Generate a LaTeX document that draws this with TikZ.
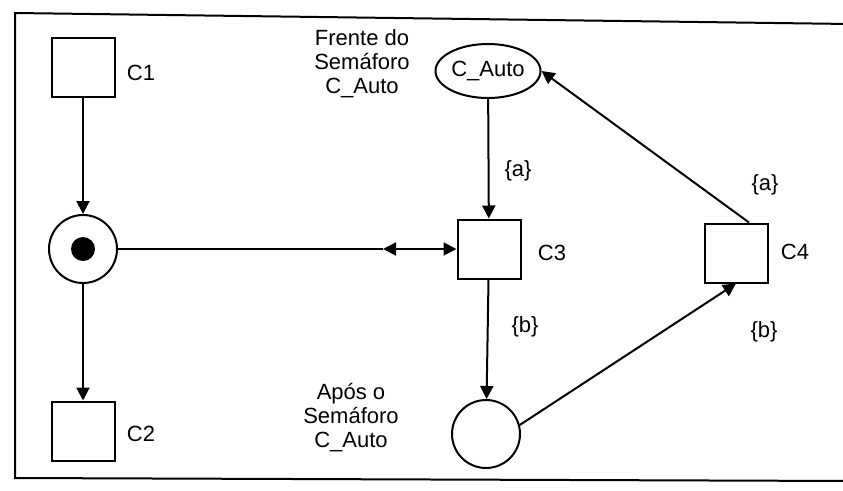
\documentclass[tikz,border=0pt]{standalone}
\usepackage{fontspec}
\setmainfont{Liberation Sans}
\usetikzlibrary{shapes.geometric, arrows.meta}

\begin{document}
\begin{tikzpicture}[x=1pt, y=-1pt,
  trans/.style={rectangle, draw, line width=2pt, minimum width=63pt, minimum height=59pt, inner sep=0pt},
  place/.style={circle, draw, line width=2pt, minimum size=68pt, inner sep=0pt},
  token/.style={circle, fill=black, minimum size=24pt, inner sep=0pt},
  txt/.style={font=\fontsize{22}{24}\selectfont, align=center, inner sep=0pt},
  flow/.style={line width=2pt, -{Triangle[length=13pt, width=13pt]}}]

\useasboundingbox (0,0) rectangle (843,490);
% frame
\draw[line width=2pt] (850,24) -- (15,13) -- (15,478) -- (850,481);

% left column
\node[trans] (c1) at (83,67) {};
\node[txt] (lc1) at (141,73) {C1};
\node[place] (p1) at (83,249) {};
\node[token] (tok) at (p1.center) {};
\node[trans] (c2) at (83,431) {};
\node[txt] (lc2) at (141,434) {C2};

% semaphore places and transitions
\node[ellipse, draw, line width=2pt, minimum width=105pt, minimum height=54pt, inner sep=0pt, txt] (auto) at (488,71) {C\_Auto};
\node[txt] (frente) at (362,64) {Frente do\\Semáforo\\C\_Auto};
\node[trans] (c3) at (489,249) {};
\node[txt] (lc3) at (552,253) {C3};
\node[place] (apos) at (486,434) {};
\node[txt] (lapos) at (351,418) {Após o\\Semáforo\\C\_Auto};
\node[trans] (c4) at (736,253) {};
\node[txt] (lc4) at (795,252) {C4};

% arc inscriptions
\node[txt] (a3) at (518,171) {\{a\}};
\node[txt] (b3) at (525,327) {\{b\}};
\node[txt] (a4) at (765,185) {\{a\}};
\node[txt] (b4) at (764,332) {\{b\}};

\coordinate (mid) at (383,249);

\draw[flow] (c1) -- (p1);
\draw[flow] (p1) -- (c2);
\draw[line width=2pt] (p1) -- (mid);
\draw[flow, {Triangle[length=13pt, width=13pt]}-{Triangle[length=13pt, width=13pt]}] (mid) -- (c3);
\draw[flow] (auto) -- (c3);
\draw[flow] (c3) -- (apos);
\draw[flow] (apos.15) -- (c4.south);
\draw[flow] ([xshift=13pt]c4.north) -- (auto.east);

\end{tikzpicture}
\end{document}
